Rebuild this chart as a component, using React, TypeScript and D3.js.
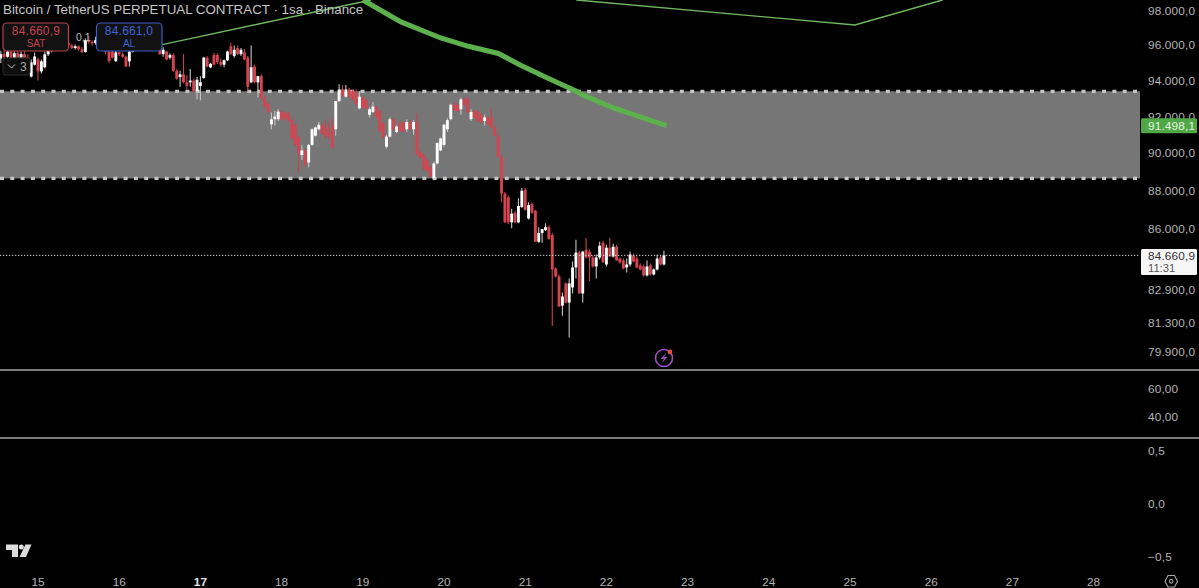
import React from "react";
import * as d3 from "d3";

type C = number[];
// [open, high, low, close], one candle per hour
const day14: C[] = [[95250,95700,95000,95500],[95500,95800,95200,95350],[95350,95750,95100,95650],[95650,95800,95200,95300],[95300,95700,95100,95550],[95550,95700,95150,95300],[95300,95650,95100,95500],[95500,95700,95200,95250],[95300,95500,95050,95100],[94230,95200,94170,95030],[94900,95600,94850,95370]];
const day15: C[] = [[95200,95300,94000,94520],[94520,95200,94400,95090],[94750,95650,94700,95490],[95490,95900,95400,95700],[95700,96200,95600,96050],[96050,96400,95900,96250],[96250,96500,96000,96100],[96100,96450,95950,96300],[96300,96500,96050,96150],[96150,96300,95900,96000],[96000,96100,95800,95850],[95850,96050,95750,95950],[95950,96000,95700,95780],[95780,95900,95550,95620],[95620,96400,95600,96300],[96300,96550,96100,96200],[96200,96300,96000,96150],[96150,96500,96050,96300],[96300,96500,96000,96100],[96100,96300,95800,95900],[95900,96000,95500,95650],[95650,95800,95000,95100],[95650,95700,95250,95300],[95100,95700,95050,95600]];
const day16: C[] = [[95600,95650,95400,95500],[95500,95600,95300,95350],[95350,95400,94750,94800],[95090,95750,94800,95650],[95650,96100,95600,96000],[96000,96300,95850,96150],[96150,96450,96000,96250],[96250,96500,96100,96150],[96150,96350,95950,96250],[96250,96500,96100,96300],[96300,96550,96000,96100],[96100,96250,95900,96000],[96000,96100,95450,95500],[95500,95900,95350,95750],[95650,95700,95150,95200],[95300,95550,95200,95450],[95450,95550,94500,94550],[94550,94650,94050,94100],[94200,94550,93650,94350],[94350,95500,93850,93900],[93900,94300,93500,93700],[93900,94650,93650,94000],[94000,94100,93350,93400],[93400,94200,92950,94050]];
const day17: C[] = [[93700,94250,92900,93900],[94150,95350,94100,95300],[95300,95400,94750,94800],[94750,95000,94700,94950],[95450,95600,94850,94900],[95450,95550,94950,95050],[95050,95250,94800,94900],[94900,95200,94750,95150],[95150,95700,95100,95650],[95950,96150,95450,95500],[95400,96000,95300,95750],[95850,96000,95450,95500],[95500,95850,95400,95750],[95600,95800,95150,95200],[95300,95400,93400,93650],[93900,96000,93850,94750],[94800,94900,93850,93900],[93900,94250,93050,94250],[94250,94350,92950,93000],[93000,93150,92500,92550],[92700,92800,92200,92250],[91570,92220,91300,91840],[91850,92300,91500,92000],[91850,92400,91750,92270]];
const day18: C[] = [[92250,92350,91800,91850],[92200,92300,91850,91900],[92150,92250,91700,91750],[91800,91900,90750,90800],[91550,91600,90400,90450],[90850,90950,88950,90000],[89900,90450,89650,90150],[90150,90250,89300,89400],[89500,90500,89250,90450],[90450,91350,90400,91300],[90950,91450,90900,91400],[91300,91700,91250,91550],[91550,91600,91000,91050],[91400,91800,90800,90900],[91050,91700,90750,91000],[91500,91950,90250,90300],[91300,92850,90950,92850],[92850,93800,92800,93500],[93500,93750,93100,93200],[93100,93750,93050,93500],[93500,93600,93050,93100],[93400,93500,92900,92950],[93350,93500,92650,92700],[92450,93400,92400,93100]];
const day19: C[] = [[93050,93150,92450,92500],[92900,93000,92400,92450],[92100,92500,91950,92400],[92250,92800,92200,92550],[92500,92600,91900,91950],[92300,92350,91150,91200],[91600,91700,90800,90850],[90350,91000,90250,90900],[90900,91950,90850,91850],[91850,91900,91250,91300],[91150,91500,91100,91450],[91650,91750,91150,91200],[91650,91700,91150,91200],[91300,91850,91150,91700],[91700,91800,91250,91300],[91300,91800,91000,91700],[91700,92200,89900,89900],[90050,90150,89700,89750],[89900,90000,89100,89150],[89600,89700,89000,89050],[89250,89350,88700,88750],[88650,89550,88550,89450],[89450,90600,89400,90550],[90150,90850,90100,90800]];
const day20: C[] = [[90450,91600,90350,91550],[91300,91900,91150,91800],[91850,92700,91800,92650],[92650,92800,92300,92350],[92650,92750,92250,92300],[92400,93050,92100,92950],[92950,93100,92600,92650],[92950,93050,92200,92250],[91850,92400,91750,92250],[92300,92350,91900,91950],[92250,92350,91700,91750],[92100,92200,91650,91700],[91750,92100,91500,91950],[91950,92000,91500,91550],[91950,92450,91350,91400],[91400,91500,90900,90950],[90900,91000,89800,89800],[89800,89900,87400,87850],[87850,87950,86300,86350],[87650,87750,86250,86350],[86350,87050,86050,86800],[86850,86950,86300,86350],[86350,87600,86300,87200],[87150,88150,87100,88000]];
const day21: C[] = [[88050,88150,86950,87000],[86550,87400,86500,87250],[87300,87400,86800,86850],[86950,87000,85350,85350],[85350,86100,85300,85800],[85800,86000,85300,86000],[85950,86300,85900,86100],[86100,86200,85450,85500],[85700,85800,81150,83950],[84000,84050,83550,83600],[83600,83700,82100,82100],[82150,82800,81650,82600],[83250,83300,82250,82300],[82300,83500,80600,83250],[83050,84350,82750,84050],[84050,85450,83500,84800],[84800,84900,82750,82750],[82750,84900,82300,84850],[84950,85550,84500,84550],[84850,84950,83350,84550],[84550,84650,84050,84100],[84100,84700,83500,84550],[84550,85350,84450,85150],[85300,85400,84300,84300]];
const day22: C[] = [[84200,85200,84100,85050],[85050,85550,84600,84600],[84600,85250,84550,85100],[85100,85200,84400,84400],[84500,84550,84250,84300],[84400,84500,83950,84000],[84050,84500,83800,84200],[84200,84850,84100,84700],[84650,84750,84300,84350],[84500,84600,84000,84050],[84150,84250,83900,83950],[84100,84200,83600,83650],[83650,84400,83600,84100],[84150,84250,83650,83700],[83700,84000,83650,83950],[83950,84700,83900,84500],[84550,84650,84150,84200],[84200,84900,84150,84660.9]];

const maDays = [19.0,19.47,19.96,20.3,20.67,20.95,21.26,21.63,21.69,22.06,22.74];
const maPrices = [98650,97360,96430,95950,95540,94850,94170,93400,93230,92520,91498.1];
const trendADays = [16.53,19.1];
const trendAPrices = [96050,98650];
const trendBDays = [21.63,25.06,26.14];
const trendBPrices = [98650,97180,98650];

const zoneTop = 93400;
const zoneBottom = 88650;
const lastPrice = 84660.9;
const bidPrice = "84.660,9";
const askPrice = "84.661,0";

const priceTicks = [98000,96000,94000,92000,90000,88000,86000,82900,81300,79900];
const rsiTicks = [60,40];
const macdTicks = [0.5,0,-0.5];
const dayTicks = [15,16,17,18,19,20,21,22,23,24,25,26,27,28];

const W = 1199, H = 588;
const FONT = "'Liberation Sans', Arial, sans-serif";
const RED = "#d4444f";
const AXIS = "#b4b4b4";

const x = d3.scaleLinear().domain([15,28]).range([38,1093.6]);
const y = d3.scaleLog().domain([98000,79900]).range([11,352]);
const yRsi = d3.scaleLinear().domain([60,40]).range([389,417]);
const yMacd = d3.scaleLinear().domain([0.5,-0.5]).range([451,557]);

const loc = d3.formatLocale({decimal:",",thousands:".",grouping:[3],currency:["",""]});
const fmtPrice = loc.format(",.1f");
const fmtRsi = loc.format(".2f");

const rows = [
  ...day14.map((c,i)=>({t:14+(13+i)/24,c})),
  ...[day15,day16,day17,day18,day19,day20,day21,day22].flatMap((arr,k)=>arr.map((c,i)=>({t:15+k+i/24,c}))),
];

const line = (ds:number[],ps:number[],curve:any)=>
  d3.line<number>().x(d=>x(d)).y((_,i)=>y(ps[i])).curve(curve)(ds) as string;

export default function App(){
  const zoneT=y(zoneTop), zoneB=y(zoneBottom), lastY=y(lastPrice);
  const bw=2.9;
  return (
    <svg width={W} height={H} viewBox={`0 0 ${W} ${H}`} style={{position:"absolute",left:0,top:0,background:"#000",fontFamily:FONT}}>
      <defs>
        <filter id="soft" x="-2%" y="-2%" width="104%" height="104%"><feGaussianBlur stdDeviation="0.4"/></filter>
      </defs>
      <rect width={W} height={H} fill="#000"/>
      <rect x={0} y={zoneT} width={1140} height={zoneB-zoneT} fill="#767676"/>
      <g filter="url(#soft)">
        <line x1={0} x2={1140} y1={zoneT} y2={zoneT} stroke="#c4c4c4" strokeWidth={3.2} strokeDasharray="4 6.3"/>
        <line x1={0} x2={1140} y1={zoneB} y2={zoneB} stroke="#c4c4c4" strokeWidth={3.2} strokeDasharray="4 6.3"/>
      </g>
      <path d={line(trendADays,trendAPrices,d3.curveLinear)} fill="none" stroke="#6fb65f" strokeWidth={1.4}/>
      <path d={line(trendBDays,trendBPrices,d3.curveLinear)} fill="none" stroke="#6fb65f" strokeWidth={1.4}/>
      <g filter="url(#soft)">
        {rows.map(({t,c},i)=>{
          const [o,h,l,cl]=c; const up=cl>=o; const cx=x(t);
          const top=y(Math.max(o,cl)), bot=y(Math.min(o,cl));
          return <g key={i}>
            <line x1={cx} x2={cx} y1={y(h)} y2={y(l)} stroke={up?"#c4c4c4":"#c8424e"} strokeWidth={1.1}/>
            <rect x={cx-bw/2} y={top} width={bw} height={Math.max(bot-top,1.4)} fill={up?"#ffffff":RED}/>
          </g>;
        })}
      </g>
      <path d={line(maDays,maPrices,d3.curveLinear)} fill="none" stroke="#5cb14c" strokeWidth={5}/>
      <line x1={0} x2={1140} y1={lastY} y2={lastY} stroke="#d8d8d8" strokeWidth={1} strokeDasharray="1.3 1.7"/>
      <line x1={0} x2={W} y1={370} y2={370} stroke="#7a7a7a" strokeWidth={2}/>
      <line x1={0} x2={W} y1={438} y2={438} stroke="#7a7a7a" strokeWidth={2}/>

      <text x={3} y={14} fontSize={13.35} fill="#c6c6c6">Bitcoin / TetherUS PERPETUAL CONTRACT · 1sa · Binance</text>
      <text x={76} y={41} fontSize={10.5} fill="#bdbdbd">0,1</text>
      <rect x={3} y={23} width={65.5} height={28} rx={4} fill="#121212" stroke="#b5434c" strokeWidth={1.2}/>
      <text x={36} y={35} fontSize={12} textAnchor="middle" fill="#c2444e" letterSpacing={0.2}>{bidPrice}</text>
      <text x={36} y={47} fontSize={10} textAnchor="middle" fill="#c2444e">SAT</text>
      <rect x={96.5} y={23} width={65.5} height={28} rx={4} fill="#121212" stroke="#3a5cc8" strokeWidth={1.2}/>
      <text x={129} y={35} fontSize={12} textAnchor="middle" fill="#3f63d6" letterSpacing={0.2}>{askPrice}</text>
      <text x={129} y={47} fontSize={10} textAnchor="middle" fill="#3f63d6">AL</text>
      <rect x={3} y={58} width={27} height={17} rx={3} fill="#0e0e0e" stroke="#2c2c2c"/>
      <path d="M8 64.5 L11.5 68 L15 64.5" fill="none" stroke="#c4c4c4" strokeWidth={1}/>
      <text x={20} y={71} fontSize={12} fill="#a8a8a8">3</text>

      {priceTicks.map(v=><text key={v} x={1148} y={y(v)+4} fontSize={11.8} fill={AXIS} letterSpacing={0.15}>{fmtPrice(v)}</text>)}
      {rsiTicks.map(v=><text key={v} x={1148} y={yRsi(v)+4} fontSize={11.8} fill={AXIS} letterSpacing={0.15}>{fmtRsi(v)}</text>)}
      {macdTicks.map(v=><text key={v} x={1148} y={yMacd(v)+4} fontSize={11.8} fill={AXIS} letterSpacing={0.15}>{(v<0?"\u2212":"")+loc.format(".1f")(Math.abs(v))}</text>)}

      <rect x={1141} y={y(91498.1)-7.5} width={56} height={15} rx={1.5} fill="#4fa845"/>
      <text x={1148} y={y(91498.1)+4} fontSize={11.8} fill="#e6f3e2" letterSpacing={0.15}>{fmtPrice(91498.1)}</text>
      <rect x={1141} y={249} width={56} height={26} rx={1.5} fill="#f6f6f6"/>
      <text x={1148} y={260} fontSize={11.8} fill="#333" letterSpacing={0.15}>{bidPrice}</text>
      <text x={1148} y={272} fontSize={11.2} fill="#555">11:31</text>

      {dayTicks.map(d=><text key={d} x={x(d)} y={585.5} fontSize={11.8} textAnchor="middle" fill={d===17?"#e4e4e4":AXIS} fontWeight={d===17?700:400}>{d}</text>)}

      <g fill="#dcdcdc">
        <path d="M6 544.5 H18 V557 H12 V550 H6 Z"/>
        <circle cx={21.3} cy={547} r={2.5}/>
        <path d="M25.5 544.5 H31.5 L26 557 H19.5 Z"/>
      </g>

      <g>
        <circle cx={664} cy={358} r={8.5} fill="none" stroke="#9b4fc0" strokeWidth={1.6}/>
        <path d="M666.5 352.5 L660.5 359 H664 L661.5 363.5 L667.5 357 H664 Z" fill="#9b4fc0"/>
        <circle cx={670} cy={352} r={2.4} fill="#e0523f"/>
      </g>
      <g fill="none" stroke="#a8a8a8" strokeWidth={1.1}>
        <path d="M1165 581.5 L1168 575.5 H1174.5 L1177.5 581.5 L1174.5 587 H1168 Z"/>
        <circle cx={1171.2} cy={581.3} r={1.8}/>
      </g>
    </svg>
  );
}
